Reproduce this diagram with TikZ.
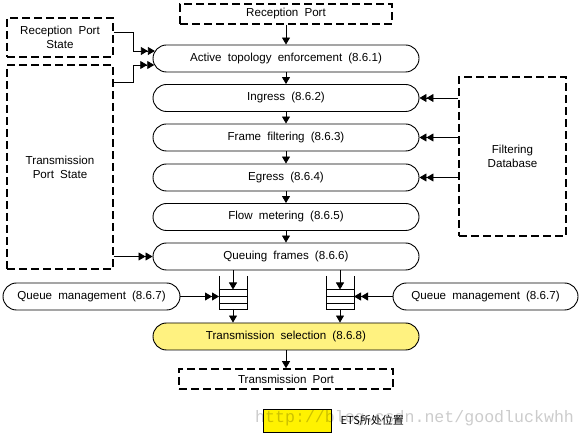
\documentclass[tikz,border=0pt]{standalone}
\usepackage{fontspec}
\setmainfont{Liberation Sans}[WordSpace=1.9]
\newfontfamily\cjk{Noto Sans CJK SC}
\newfontfamily\wmfont{Liberation Mono}
\usetikzlibrary{arrows.meta,calc}
\begin{document}
\begin{tikzpicture}[x=1pt,y=-1pt,
  font=\fontsize{11.6}{14}\selectfont,
  proc/.style={draw,line width=0.9pt,rounded corners=13.5pt,minimum width=266,minimum height=27,inner sep=0pt},
  dbox/.style={draw,line width=1.6pt,dash pattern=on 8pt off 4pt,inner sep=0pt,align=center},
  conn/.style={line width=0.8pt},
  sarr/.style={conn,-{Triangle[length=7pt,width=8pt]}},
  darr/.style={conn,-{Triangle[length=7pt,width=8pt]Triangle[length=7pt,width=8pt]}},
  qline/.style={line width=0.8pt}]
\useasboundingbox (0,0) rectangle (587,438);
\fill[white] (0,0) rectangle (587,438);
% dashed boxes
\node[dbox,minimum width=212,minimum height=20] (rp) at (286,14) {Reception Port};
\node[dbox,minimum width=106,minimum height=39] (rps) at (60,37.5) {Reception Port\\State};
\node[dbox,minimum width=106,minimum height=204] (tps) at (60,167) {Transmission\\Port State};
\node[dbox,minimum width=107,minimum height=159] (fdb) at (512.5,156.5) {Filtering\\Database};
\node[dbox,minimum width=214,minimum height=20] (tp) at (286,379) {Transmission Port};
% process nodes
\node[proc] (act) at (286,58.5) {Active topology enforcement (8.6.1)};
\node[proc] (ing) at (286,98) {Ingress (8.6.2)};
\node[proc] (ff) at (286,137.5) {Frame filtering (8.6.3)};
\node[proc] (eg) at (286,177.5) {Egress (8.6.4)};
\node[proc] (fm) at (286,217) {Flow metering (8.6.5)};
\node[proc] (qf) at (286,256.5) {Queuing frames (8.6.6)};
\node[proc,fill={rgb,255:red,255;green,242;blue,128}] (ts) at (286,336.5) {Transmission selection (8.6.8)};
\node[proc,minimum width=177] (qml) at (91.5,296.5) {Queue management (8.6.7)};
\node[proc,minimum width=185] (qmr) at (485.5,296.5) {Queue management (8.6.7)};
% queues
\foreach \qx/\qn in {219/ql,326/qr}{
  \draw[qline] (\qx,276) -- (\qx,309) -- (\qx+28,309) -- (\qx+28,276);
  \draw[qline] (\qx,289.5) -- (\qx+28,289.5);
  \draw[qline] (\qx,296.5) -- (\qx+28,296.5);
  \draw[qline] (\qx,303) -- (\qx+28,303);
  \coordinate (\qn top) at (\qx+14,289.5);
  \coordinate (\qn bot) at (\qx+14,309);
  \coordinate (\qn w) at (\qx,296.5);
  \coordinate (\qn e) at (\qx+28,296.5);
}
% main chain
\draw[sarr] (rp) -- (act);
\draw[sarr] (act) -- (ing);
\draw[sarr] (ing) -- (ff);
\draw[sarr] (ff) -- (eg);
\draw[sarr] (eg) -- (fm);
\draw[sarr] (fm) -- (qf);
\draw[sarr] (qf.south -| qltop) -- (qltop);
\draw[sarr] (qf.south -| qrtop) -- (qrtop);
\draw[sarr] (qlbot) -- (qlbot |- ts.north);
\draw[sarr] (qrbot) -- (qrbot |- ts.north);
\draw[sarr] (ts) -- (tp);
% side inputs
\coordinate (a1) at ($(act.west)+(2.3,-7.5)$);
\coordinate (a2) at ($(act.west)+(1.7,6.5)$);
\draw[darr] ($(rps.east)+(0,-5)$) -| (133,51) -- (a1);
\draw[darr] ($(tps.north east)+(0,18)$) -| (133,65) -- (a2);
\draw[darr] (tps.east |- qf) -- (qf.west);
\draw[darr] (fdb.west |- ing) -- (ing.east);
\draw[darr] (fdb.west |- ff) -- (ff.east);
\draw[darr] (fdb.west |- eg) -- (eg.east);
\draw[darr] (qml) -- (qlw);
\draw[darr] (qmr) -- (qre);
% legend
\node[draw,line width=0.8pt,fill=yellow,minimum width=68,minimum height=23,inner sep=0pt] (leg) at (297,420.5) {};
\node[anchor=west,inner sep=0pt,font=\cjk\fontsize{11}{13}\selectfont] (legt) at (340.5,420) {ETS所处位置};
\node[anchor=base west,inner sep=0pt,text=black,text opacity=0.2,font=\wmfont\fontsize{16.6}{18}\selectfont] (wm) at (255,423) {http://blog.csdn.net/goodluckwhh};
\end{tikzpicture}
\end{document}
